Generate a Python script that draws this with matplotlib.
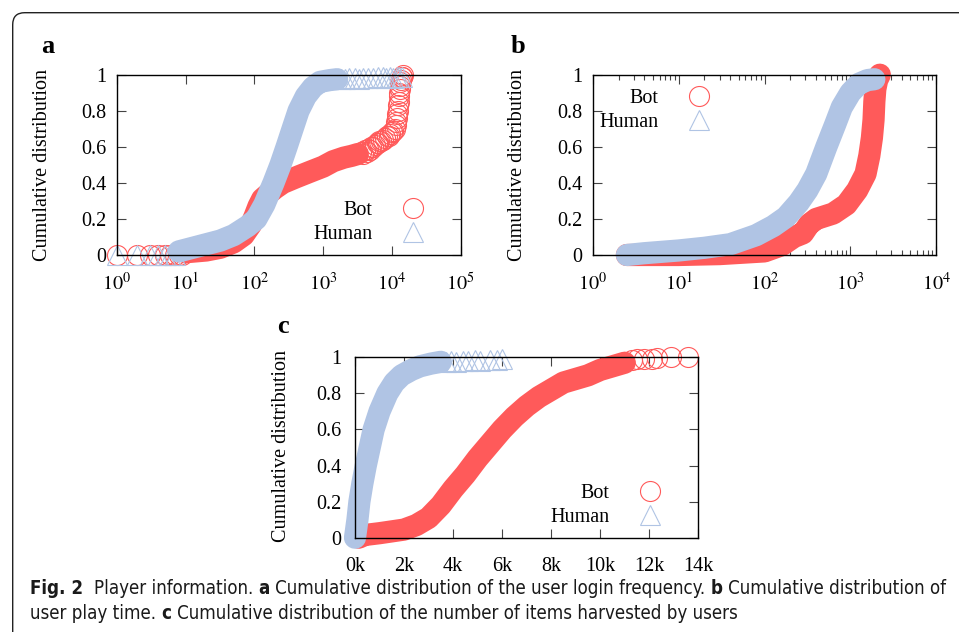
import matplotlib
matplotlib.use('Agg')
import matplotlib.pyplot as plt
from matplotlib.lines import Line2D
from matplotlib.patches import FancyBboxPatch
from matplotlib import ticker, font_manager

plt.rcParams['font.family'] = 'Liberation Serif'
plt.rcParams['mathtext.fontset'] = 'stix'

RED = '#ff5a5a'
BLUE = '#b0c4e4'

# ---- a: login frequency ----
a_bot_x = [10, 20, 32, 50, 70, 90, 100, 115, 130, 160, 200, 260, 400, 630, 1000, 1400, 2000, 2600, 3200]
a_bot_y = [0.015, 0.025, 0.04, 0.07, 0.11, 0.17, 0.21, 0.27, 0.31, 0.34, 0.37, 0.40, 0.43, 0.46, 0.49, 0.52,
           0.54, 0.55, 0.56]
a_bot_px = [1, 2, 3, 4, 5, 6, 7, 8, 9, 3500, 3800, 4000, 4300, 4500, 4800, 5000, 5300, 5600, 6000, 6300,
            6600, 7000, 7500, 8000, 8500, 9000, 9500, 10000, 10500, 11000, 11300, 11500, 11800, 12000,
            12200, 12300, 12500, 12600, 12800, 12900, 13100, 13300, 13500, 13800, 14100, 14500]
a_bot_py = [0, 0, 0, 0, 0, 0, 0, 0, 0, 0.57, 0.56, 0.58, 0.57, 0.59, 0.58, 0.60, 0.60, 0.61, 0.62, 0.62,
            0.63, 0.63, 0.64, 0.65, 0.66, 0.66, 0.67, 0.68, 0.69, 0.70, 0.72, 0.74, 0.76, 0.78,
            0.80, 0.83, 0.85, 0.88, 0.90, 0.92, 0.94, 0.96, 0.97, 0.99, 0.99, 1.0]
a_hum_x = [8, 16, 32, 50, 80, 107, 140, 190, 240, 295, 360, 440, 560, 710, 900, 1250, 1600]
a_hum_y = [0.02, 0.05, 0.08, 0.11, 0.16, 0.20, 0.28, 0.40, 0.50, 0.60, 0.70, 0.80, 0.88, 0.93, 0.96, 0.97, 0.975]
a_hum_px = [1, 2, 3, 4, 5, 6, 7, 1800, 2090, 2400, 2900, 3300, 3800, 4500, 5400, 6300, 7400, 8300, 9300,
            10500, 11700, 12800, 14100]
a_hum_py = [0, 0, 0, 0, 0, 0, 0, 0.975, 0.975, 0.98, 0.98, 0.975, 0.98, 0.98, 0.98, 0.985, 0.985, 0.98,
            0.985, 0.98, 0.99, 0.99, 0.99]

# ---- b: play time ----
b_bot_x = [2.5, 10, 30, 100, 160, 220, 280, 330, 400, 630, 900, 1200, 1500, 1660, 1780, 1860, 1900, 1950, 2050, 2200]
b_bot_y = [0.0, 0.0, 0.005, 0.02, 0.055, 0.10, 0.12, 0.17, 0.20, 0.23, 0.28, 0.36, 0.45, 0.55, 0.65, 0.75, 0.85, 0.92, 0.97, 1.0]
b_hum_x = [2.5, 4, 10, 20, 40, 80, 126, 178, 250, 316, 400, 525, 660, 794, 1000, 1260, 1580, 1900]
b_hum_y = [0.0, 0.01, 0.025, 0.04, 0.06, 0.11, 0.16, 0.21, 0.29, 0.36, 0.45, 0.60, 0.72, 0.82, 0.90, 0.95, 0.97, 0.975]

# ---- c: items harvested ----
c_bot_x = [150, 400, 1000, 1500, 2000, 2500, 3000, 3500, 4000, 4500, 5000, 5500, 6000, 6500, 7000,
           7500, 8000, 8500, 9000, 9500, 10000, 10500, 11000]
c_bot_y = [0.0, 0.015, 0.025, 0.035, 0.045, 0.07, 0.11, 0.18, 0.27, 0.35, 0.44, 0.52, 0.60, 0.67, 0.73,
           0.78, 0.82, 0.86, 0.88, 0.90, 0.93, 0.95, 0.97]
c_bot_px = [11300, 11500, 11800, 12100, 12300, 12900, 13600]
c_bot_py = [0.985, 0.99, 0.99, 0.99, 0.995, 1.0, 1.0]
c_hum_x = [0, 100, 180, 300, 440, 600, 760, 1000, 1320, 1600, 1900, 2300, 2650, 3100, 3500]
c_hum_y = [0.0, 0.10, 0.20, 0.30, 0.40, 0.50, 0.60, 0.70, 0.80, 0.86, 0.90, 0.93, 0.95, 0.965, 0.975]
c_hum_px = [3700, 3900, 4100, 4400, 4600, 4900, 5100, 5500, 5800, 6000]
c_hum_py = [0.975, 0.98, 0.975, 0.98, 0.98, 0.985, 0.98, 0.985, 0.985, 0.99]

y_ticks = [0, 0.2, 0.4, 0.6, 0.8, 1]
y_labels = ['0', '0.2', '0.4', '0.6', '0.8', '1']
c_ticks = [0, 2000, 4000, 6000, 8000, 10000, 12000, 14000]
c_labels = ['0k', '2k', '4k', '6k', '8k', '10k', '12k', '14k']

BAND = 16
MS = 14.4
FS = 14.5

fig = plt.figure(figsize=(9.59, 6.32), dpi=100)


def box(x0, y0, x1, y1):
    return [x0 / 959, 1 - y1 / 632, (x1 - x0) / 959, (y1 - y0) / 632]


def series(ax, x, y, px, py, color, marker):
    ax.plot(x, y, color=color, lw=BAND, solid_capstyle='round', solid_joinstyle='round', clip_on=False)
    if px:
        ax.plot(px, py, ls='none', marker=marker, ms=MS, mfc='none', mec=color, mew=0.8, clip_on=False)


def style(ax, ypad):
    ax.set_ylim(0, 1)
    ax.set_yticks(y_ticks)
    ax.set_yticklabels(y_labels)
    ax.tick_params(which='both', direction='in', top=True, right=True, color='#444444', labelsize=FS)
    ax.tick_params(which='major', length=6.5, width=0.8)
    ax.tick_params(which='minor', length=3.5, width=0.8)
    ax.tick_params(axis='y', pad=ypad)
    for s in ax.spines.values():
        s.set_linewidth(1.0)
        s.set_color('black')


def legend(ax, loc, anchor):
    h = [Line2D([], [], ls='none', marker='o', ms=MS, mfc='none', mec=RED, mew=0.8, label='Bot'),
         Line2D([], [], ls='none', marker='^', ms=MS, mfc='none', mec=BLUE, mew=0.8, label='Human')]
    ax.legend(handles=h, loc=loc, bbox_to_anchor=anchor, markerfirst=False, frameon=False, fontsize=FS,
              handlelength=2.0, handletextpad=1.0, borderpad=0, borderaxespad=0, labelspacing=0.25)


def log_axis(ax, hi):
    ax.set_xscale('log')
    ax.set_xlim(1, 10 ** hi)
    ax.set_xticks([10 ** i for i in range(hi + 1)])
    ax.set_xticklabels([r'$10^{%d}$' % i for i in range(hi + 1)])
    ax.xaxis.set_minor_locator(ticker.LogLocator(subs=range(2, 10)))
    ax.xaxis.set_minor_formatter(ticker.NullFormatter())
    ax.tick_params(axis='x', pad=13)


# panel a
ax_a = fig.add_axes(box(116.7, 74.7, 460.7, 255))
series(ax_a, a_bot_x, a_bot_y, a_bot_px, a_bot_py, RED, 'o')
series(ax_a, a_hum_x, a_hum_y, a_hum_px, a_hum_py, BLUE, '^')
log_axis(ax_a, 5)
style(ax_a, 7.7)
legend(ax_a, 'center right', (0.92, 0.18))

# panel b
ax_b = fig.add_axes(box(592.7, 74.7, 936.3, 255))
series(ax_b, b_bot_x, b_bot_y, [], [], RED, 'o')
series(ax_b, b_hum_x, b_hum_y, [], [], BLUE, '^')
log_axis(ax_b, 4)
style(ax_b, 7.7)
legend(ax_b, 'center right', (0.3676, 0.80))

# panel c
ax_c = fig.add_axes(box(355, 357.3, 698.3, 537.7))
series(ax_c, c_bot_x, c_bot_y, c_bot_px, c_bot_py, RED, 'o')
series(ax_c, c_hum_x, c_hum_y, c_hum_px, c_hum_py, BLUE, '^')
ax_c.set_xlim(0, 14000)
ax_c.set_xticks(c_ticks)
ax_c.set_xticklabels(c_labels)
style(ax_c, 10)
ax_c.tick_params(axis='x', pad=14)
legend(ax_c, 'center right', (0.9167, 0.18))

for x, y, s in [(48, 53, 'a'), (518, 53, 'b'), (283, 333, 'c')]:
    fig.text(x / 959, 1 - y / 632, s, fontsize=19, weight='bold', ha='center', va='baseline')
for x, y in [(43, 165), (518, 165), (282, 445.5)]:
    fig.text(x / 959, 1 - y / 632, 'Cumulative distribution', rotation=90, ha='center', va='center', fontsize=FS)

# frame
fig.add_artist(FancyBboxPatch((0.127, -1), 20, 7.193, boxstyle='round,pad=0,rounding_size=0.12',
                              transform=fig.dpi_scale_trans, fill=False, ec='#222222', lw=1.0))

# caption font: a narrow sans if one is installed
cap_reg, cap_bold = None, None
for f in font_manager.fontManager.ttflist:
    fn = f.fname.replace('-', '').replace('_', '')
    if 'SansNarrow' in fn or 'SansCondensed' in fn or 'SansCond' in fn:
        if 'Bold' in fn and 'Oblique' not in fn and 'Italic' not in fn:
            cap_bold = cap_bold or f.fname
        elif 'Oblique' not in fn and 'Italic' not in fn and 'Bold' not in fn:
            cap_reg = cap_reg or f.fname


def cap_prop(bold, size):
    path = cap_bold if bold else cap_reg
    if path:
        return font_manager.FontProperties(fname=path, size=size)
    return font_manager.FontProperties(family='DejaVu Sans', weight='bold' if bold else 'normal', size=size)


line1 = [('Fig. 2', True, 2), ('Player information.', False, 1), ('a', True, 1),
         ('Cumulative distribution of the user login frequency.', False, 1), ('b', True, 1),
         ('Cumulative distribution of', False, 0)]
line2 = [('user play time.', False, 1), ('c', True, 1),
         ('Cumulative distribution of the number of items harvested by users', False, 0)]
r = fig.canvas.get_renderer()


def put_line(x, y, parts, size, keep=True):
    sp_t = fig.text(0, 0, 'x x', fontproperties=cap_prop(False, size))
    xx_t = fig.text(0, 0, 'xx', fontproperties=cap_prop(False, size))
    sp = sp_t.get_window_extent(r).width - xx_t.get_window_extent(r).width
    sp_t.remove()
    xx_t.remove()
    x0 = x
    for s, bold, gap in parts:
        t = fig.text(x / 959, 1 - y / 632, s, fontproperties=cap_prop(bold, size), va='baseline', color='#1a1a1a')
        x += t.get_window_extent(r).width + gap * sp
        if not keep:
            t.remove()
    return x - x0


w = put_line(30, 594, line1, 12, keep=False)
cap_size = 12 * 920 / w
put_line(30, 594, line1, cap_size)
put_line(30, 619, line2, cap_size)

fig.savefig('out.png', dpi=100)
